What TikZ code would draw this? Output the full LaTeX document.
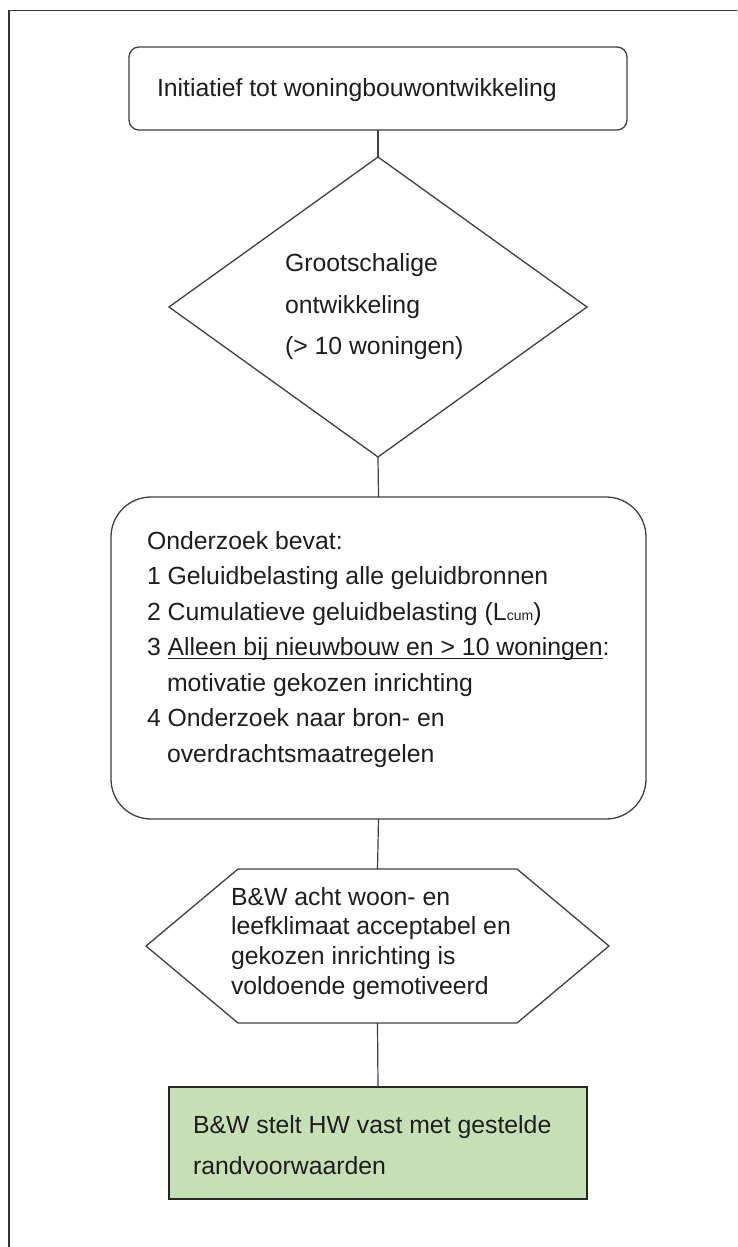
\documentclass[tikz,border=0pt]{standalone}
\usepackage{fontspec}
\setmainfont{Liberation Sans}
\usetikzlibrary{calc}
\definecolor{boxgreen}{HTML}{C5E0B4}
\definecolor{ink}{HTML}{1E1E1E}
\definecolor{edge}{HTML}{404040}
\newcommand\myul[1]{\setbox0=\hbox{#1}\rlap{\rule[-3.2pt]{\wd0}{1.1pt}}\box0}
\tikzset{
  shapebox/.style={inner sep=0pt, outer sep=0pt, line width=1.3pt, draw=edge},
  ghost/.style={inner sep=0pt, outer sep=0pt, draw=none},
  txt/.style={anchor=base west, inner sep=0pt, outer sep=0pt, text=ink,
    font=\fontsize{24.8}{29}\selectfont},
  link/.style={line width=1.2pt, draw=edge},
}
\begin{document}
\begin{tikzpicture}[x=1pt,y=-1pt]
\useasboundingbox (0,0) rectangle (737,1247);
\clip (0,0) rectangle (737,1247);
\fill[white] (0,0) rectangle (737,1247);
% outer frame (cut by the picture edges)
\draw[line width=1.5pt, draw=black!80] (9,1260) -- (9,10.7) -- (750,10.7);

% box 1
\node[shapebox, rounded corners=10pt, minimum width=498pt, minimum height=83pt] (start) at (378,88.5) {};
\node[txt] (t1) at (157,96) {Initiatief tot woningbouwontwikkeling};

% diamond
\node[ghost, minimum width=418pt, minimum height=300pt] (dia) at (378,307) {};
\draw[line width=1.3pt, draw=edge, line join=miter] (dia.north) -- (dia.east) -- (dia.south) -- (dia.west) -- cycle;
\node[txt] (d1) at (285,271) {Grootschalige};
\node[txt] (d2) at (285,313) {ontwikkeling};
\node[txt] (d3) at (285,354) {(> 10 woningen)};

% box 2
\node[shapebox, rounded corners=40pt, minimum width=535pt, minimum height=322pt] (research) at (378.5,658) {};
\node[txt] (r0) at (147,549) {Onderzoek bevat:};
\node[txt] (r1) at (147,584.5) {1 Geluidbelasting alle geluidbronnen};
\node[txt] (r2) at (147,620) {2 Cumulatieve geluidbelasting (L{\fontsize{14}{14}\selectfont cum})};
\node[txt] (r3) at (147,655.5) {3 \myul{Alleen bij nieuwbouw en > 10 woningen}:};
\node[txt] (r4) at (167,691) {motivatie gekozen inrichting};
\node[txt] (r5) at (147,726.5) {4 Onderzoek naar bron- en};
\node[txt] (r6) at (167,762) {overdrachtsmaatregelen};

% hexagon
\node[ghost, minimum width=463pt, minimum height=154pt] (hex) at (377.5,946) {};
\draw[line width=1.3pt, draw=edge, line join=miter]
  (hex.west) -- ($(hex.north west)+(92,0)$) -- ($(hex.north east)+(-92,0)$) -- (hex.east)
  -- ($(hex.south east)+(-92,0)$) -- ($(hex.south west)+(92,0)$) -- cycle;
\node[txt] (h1) at (231,905) {B\&W acht woon- en};
\node[txt] (h2) at (231,934.7) {leefklimaat acceptabel en};
\node[txt] (h3) at (231,964.4) {gekozen inrichting is};
\node[txt] (h4) at (231,994.1) {voldoende gemotiveerd};

% green box
\node[shapebox, fill=boxgreen, draw=black!85, minimum width=418pt, minimum height=112pt] (result) at (378,1143) {};
\node[txt] (g1) at (193,1133) {B\&W stelt HW vast met gestelde};
\node[txt] (g2) at (193,1174) {randvoorwaarden};

% connectors
\draw[link] (start.south) -- (dia.north);
\draw[link] (dia.south) -- (research.north);
\draw[link] (research.south) -- (hex.north);
\draw[link] (hex.south) -- (result.north);
\end{tikzpicture}
\end{document}
